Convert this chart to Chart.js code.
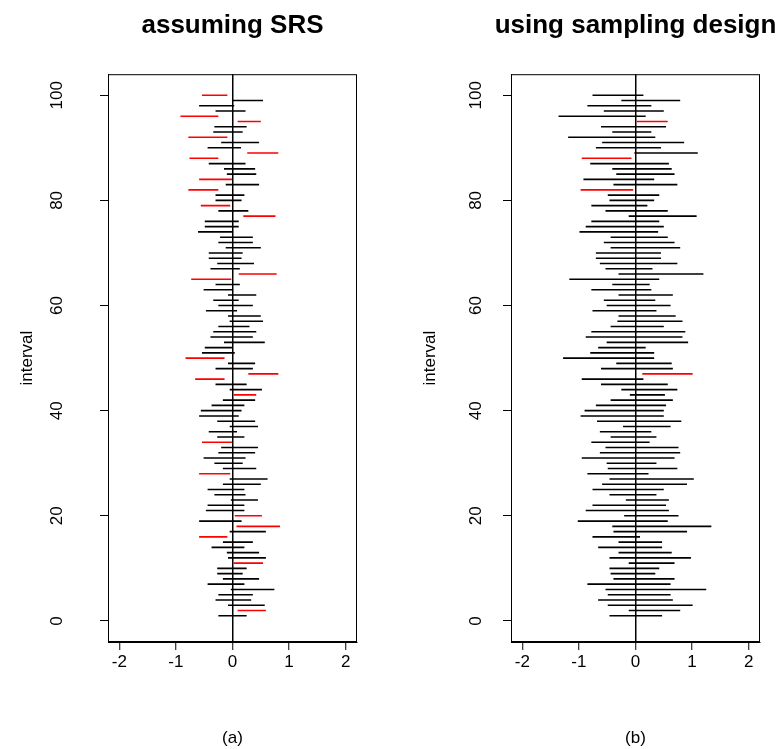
<!DOCTYPE html>
<html lang="en">
<head>
    <meta charset="UTF-8">
    <title>Confidence intervals</title>
    <script src="https://cdn.jsdelivr.net/npm/chart.js"></script>
    <style>
        body {
            margin: 0;
            background-color: #fff;
            overflow: hidden;
        }

        .panel {
            position: absolute;
            top: 0;
            width: 465px;
            height: 749px;
        }

        #panelA { left: 0; }
        #panelB { left: 403px; }
    </style>
</head>
<body>

<div class="panel" id="panelA"><canvas id="chartA"></canvas></div>
<div class="panel" id="panelB"><canvas id="chartB"></canvas></div>

<script>
// interval number (y) 1..100
const intervalIds = [
    1, 2, 3, 4, 5, 6, 7, 8, 9, 10, 11, 12, 13, 14, 15, 16, 17, 18, 19, 20,
    21, 22, 23, 24, 25, 26, 27, 28, 29, 30, 31, 32, 33, 34, 35, 36, 37, 38, 39, 40,
    41, 42, 43, 44, 45, 46, 47, 48, 49, 50, 51, 52, 53, 54, 55, 56, 57, 58, 59, 60,
    61, 62, 63, 64, 65, 66, 67, 68, 69, 70, 71, 72, 73, 74, 75, 76, 77, 78, 79, 80,
    81, 82, 83, 84, 85, 86, 87, 88, 89, 90, 91, 92, 93, 94, 95, 96, 97, 98, 99, 100
];

// (a) assuming SRS
const srsLower = [
    -0.25, 0.09, -0.08, -0.30, -0.25, -0.03, -0.44, -0.17, -0.27, -0.27,
    0.02, -0.08, -0.10, -0.37, -0.17, -0.59, -0.05, 0.07, -0.59, 0.04,
    -0.47, -0.44, -0.03, -0.32, -0.44, -0.17, -0.05, -0.59, -0.17, -0.32,
    -0.51, -0.25, -0.20, -0.54, -0.27, -0.42, -0.05, -0.27, -0.59, -0.56,
    -0.37, -0.17, 0.02, -0.05, -0.30, -0.66, 0.28, -0.30, -0.08, -0.83,
    -0.54, -0.49, -0.15, -0.39, -0.34, -0.25, -0.05, -0.08, -0.47, -0.25,
    -0.34, -0.08, -0.51, -0.30, -0.73, 0.11, -0.39, -0.27, -0.42, -0.42,
    -0.12, -0.25, -0.22, -0.61, -0.49, -0.49, 0.19, -0.25, -0.56, -0.30,
    -0.30, -0.78, -0.12, -0.59, -0.10, -0.15, -0.42, -0.76, 0.26, -0.44,
    -0.20, -0.78, -0.34, -0.32, 0.09, -0.92, -0.30, -0.59, -0.01, -0.54
];
const srsUpper = [
    0.25, 0.59, 0.57, 0.33, 0.36, 0.74, 0.21, 0.47, 0.18, 0.25,
    0.54, 0.59, 0.47, 0.21, 0.36, -0.09, 0.59, 0.84, 0.16, 0.52,
    0.21, 0.21, 0.45, 0.23, 0.21, 0.50, 0.62, -0.04, 0.42, 0.18,
    0.23, 0.40, 0.45, -0.01, 0.21, 0.08, 0.45, 0.40, 0.11, 0.16,
    0.21, 0.40, 0.42, 0.52, 0.25, -0.14, 0.81, 0.36, 0.40, -0.14,
    0.04, 0.01, 0.57, 0.36, 0.42, 0.30, 0.54, 0.50, 0.08, 0.36,
    0.11, 0.42, 0.01, 0.13, -0.02, 0.78, 0.13, 0.38, 0.16, 0.18,
    0.50, 0.36, 0.36, 0.01, 0.11, 0.11, 0.76, 0.28, -0.04, 0.16,
    0.21, -0.25, 0.47, -0.01, 0.42, 0.40, 0.23, -0.25, 0.81, 0.15,
    0.47, -0.09, 0.18, 0.25, 0.50, -0.25, 0.23, 0.03, 0.54, -0.09
];

// (b) using sampling design
const designLower = [
    -0.46, -0.12, -0.49, -0.66, -0.49, -0.53, -0.85, -0.39, -0.44, -0.46,
    -0.12, -0.46, -0.30, -0.66, -0.30, -0.76, -0.39, -0.41, -1.02, -0.20,
    -0.88, -0.76, -0.17, -0.46, -0.76, -0.59, -0.46, -0.85, -0.49, -0.51,
    -0.95, -0.63, -0.53, -0.78, -0.44, -0.63, -0.22, -0.68, -0.97, -0.90,
    -0.70, -0.44, -0.10, -0.25, -0.61, -0.95, 0.12, -0.61, -0.34, -1.28,
    -0.80, -0.66, -0.51, -0.88, -0.78, -0.44, -0.32, -0.30, -0.76, -0.51,
    -0.56, -0.30, -0.78, -0.41, -1.17, -0.30, -0.53, -0.63, -0.70, -0.70,
    -0.44, -0.56, -0.44, -0.99, -0.88, -0.78, -0.12, -0.53, -0.78, -0.46,
    -0.49, -0.97, -0.39, -0.92, -0.34, -0.41, -0.80, -0.95, -0.02, -0.70,
    -0.59, -1.19, -0.41, -0.61, 0.02, -1.36, -0.56, -0.85, -0.25, -0.76
];
const designUpper = [
    0.47, 0.79, 1.01, 0.66, 0.62, 1.25, 0.62, 0.69, 0.35, 0.42,
    0.69, 0.98, 0.64, 0.47, 0.47, 0.08, 0.91, 1.34, 0.57, 0.76,
    0.59, 0.54, 0.59, 0.37, 0.50, 0.91, 1.03, 0.23, 0.74, 0.37,
    0.69, 0.79, 0.76, 0.25, 0.37, 0.28, 0.62, 0.81, 0.50, 0.50,
    0.54, 0.66, 0.52, 0.74, 0.57, 0.14, 1.01, 0.66, 0.64, 0.33,
    0.33, 0.18, 0.93, 0.83, 0.88, 0.50, 0.83, 0.71, 0.37, 0.62,
    0.35, 0.66, 0.28, 0.25, 0.42, 1.20, 0.30, 0.74, 0.45, 0.45,
    0.79, 0.69, 0.57, 0.40, 0.50, 0.42, 1.08, 0.57, 0.21, 0.33,
    0.42, -0.04, 0.74, 0.33, 0.69, 0.64, 0.59, -0.07, 1.10, 0.45,
    0.86, 0.35, 0.28, 0.54, 0.57, 0.18, 0.50, 0.28, 0.79, 0.14
];

const xTicks = [-2, -1, 0, 1, 2];
const yTicks = [0, 20, 40, 60, 80, 100];

Chart.defaults.font.family = "'Liberation Sans', Arial, sans-serif";
Chart.defaults.color = '#000';

// segments joined by a null point so the line breaks between intervals
function segments(lower, upper, missed) {
    const pts = [];
    intervalIds.forEach((id, k) => {
        const miss = upper[k] < 0 || lower[k] > 0;
        if (miss !== missed) return;
        pts.push({x: lower[k], y: id}, {x: upper[k], y: id}, {x: upper[k], y: null});
    });
    return pts;
}

// box around the plot region
const plotBox = {
    id: 'plotBox',
    afterDraw(chart) {
        const {ctx, chartArea} = chart;
        ctx.save();
        ctx.strokeStyle = '#000';
        ctx.lineWidth = 1;
        ctx.strokeRect(chartArea.left + 0.5, chartArea.top + 0.5,
            chartArea.right - chartArea.left - 1, chartArea.bottom - chartArea.top - 1);
        ctx.restore();
    }
};

function makeChart(canvasId, mainTitle, subTitle, lower, upper, labelGap) {
    const ctx = document.getElementById(canvasId).getContext('2d');
    return new Chart(ctx, {
        type: 'scatter',
        data: {
            datasets: [{
                data: segments(lower, upper, false),
                showLine: true,
                spanGaps: false,
                borderColor: '#000',
                borderWidth: 1.6,
                pointRadius: 0
            }, {
                data: segments(lower, upper, true),
                showLine: true,
                spanGaps: false,
                borderColor: '#ff0000',
                borderWidth: 1.6,
                pointRadius: 0
            }]
        },
        options: {
            responsive: true,
            maintainAspectRatio: false,
            animation: false,
            layout: { padding: 0 },
            plugins: {
                legend: { display: false },
                tooltip: { enabled: false },
                title: {
                    display: true,
                    text: mainTitle,
                    font: { size: 26, weight: 'bold' },
                    padding: { top: 10, bottom: 33 }
                }
            },
            scales: {
                x: {
                    type: 'linear',
                    min: -2.2,
                    max: 2.2,
                    afterBuildTicks: s => { s.ticks = xTicks.map(v => ({value: v})); },
                    afterFit: s => { s.height = 107; },
                    border: { display: true, color: '#000', width: 1 },
                    grid: {
                        drawOnChartArea: true,
                        color: c => (c.tick && c.tick.value === 0) ? '#000' : 'rgba(0,0,0,0)',
                        lineWidth: 1.5,
                        tickColor: '#000',
                        tickWidth: 1,
                        tickLength: 8
                    },
                    ticks: { font: { size: 17 }, padding: 2, maxRotation: 0 },
                    title: {
                        display: true,
                        text: subTitle,
                        font: { size: 17 },
                        padding: { top: 0, bottom: 0 }
                    }
                },
                y: {
                    type: 'linear',
                    min: -4,
                    max: 104,
                    afterBuildTicks: s => { s.ticks = yTicks.map(v => ({value: v})); },
                    afterFit: s => { s.width = 108; },
                    border: { display: true, color: '#000', width: 1 },
                    grid: {
                        drawOnChartArea: false,
                        tickColor: '#000',
                        tickWidth: 1,
                        tickLength: 8
                    },
                    ticks: { font: { size: 17 }, minRotation: 90, maxRotation: 90, crossAlign: 'center', padding: labelGap },
                    title: {
                        display: true,
                        text: 'interval',
                        font: { size: 17 },
                        padding: { top: 17, bottom: 0 }
                    }
                },
                // empty right axis keeps the plot centred under the title
                y2: {
                    type: 'linear',
                    position: 'right',
                    min: -4,
                    max: 104,
                    afterFit: s => { s.width = 108; },
                    border: { display: false },
                    grid: { display: false },
                    ticks: { display: false }
                }
            }
        },
        plugins: [plotBox]
    });
}

makeChart('chartA', 'assuming SRS', '(a)', srsLower, srsUpper, 29);
makeChart('chartB', 'using sampling design', '(b)', designLower, designUpper, 13);
</script>
</body>
</html>
